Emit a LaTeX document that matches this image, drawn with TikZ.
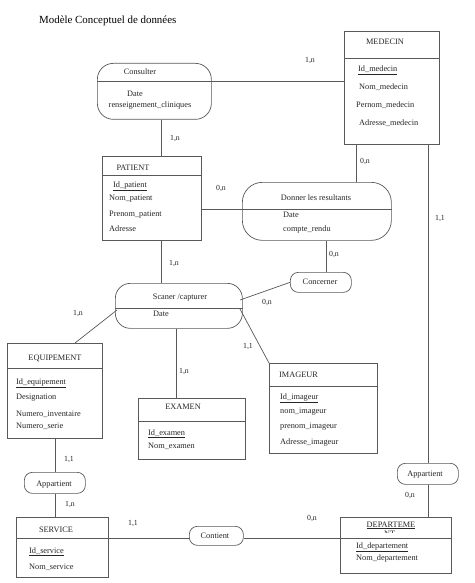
\documentclass[tikz,border=0pt]{standalone}
\usepackage{fontspec}
\setmainfont{Liberation Serif}
\usetikzlibrary{calc}
\tikzset{
  ln/.style={draw=black!65, line width=0.7pt},
  ent/.style={ln, rectangle, inner sep=0pt, anchor=north west},
  rel/.style={ln, rectangle, inner sep=0pt, anchor=north west},
  txt/.style={inner sep=0pt, anchor=base west, font=\fontsize{8.3}{9}\selectfont, text=black!85},
  ctxt/.style={inner sep=0pt, anchor=base, font=\fontsize{8.3}{9}\selectfont, text=black!85},
  card/.style={inner sep=0pt, anchor=base, font=\fontsize{7.8}{9}\selectfont, text=black!85},
}
\begin{document}
\begin{tikzpicture}[x=1pt,y=-1pt]
\useasboundingbox (0,0) rectangle (474,583);
\fill[white] (0,0) rectangle (474,583);

\node[inner sep=0pt, anchor=base west, font=\fontsize{10.9}{12}\selectfont] (title) at (39,24) {Modèle Conceptuel de données};

% ---------- Entities ----------
\node[ent, minimum width=95pt, minimum height=113pt] (medecin) at (344,31) {};
\draw[ln] (344,58) -- (439,58);
\node[ctxt] (medecinT) at (385,45) {MEDECIN};
\node[txt] (m1) at (358,72) {\underline{Id\_medecin}};
\node[txt] (m2) at (359,90) {Nom\_medecin};
\node[txt] (m3) at (356,108) {Pernom\_medecin};
\node[txt] (m4) at (359,125) {Adresse\_medecin};

\node[ent, minimum width=99pt, minimum height=84pt] (patient) at (102,156) {};
\draw[ln] (102,175) -- (201,175);
\node[ctxt] (patientT) at (133,170) {PATIENT};
\node[txt] (p1) at (113,187) {\underline{Id\_patient}};
\node[txt] (p2) at (109,200) {Nom\_patient};
\node[txt] (p3) at (109,216) {Prenom\_patient};
\node[txt] (p4) at (109,231) {Adresse};

\node[ent, minimum width=95pt, minimum height=95pt] (equip) at (7,343) {};
\draw[ln] (7,368) -- (102,368);
\node[ctxt] (equipT) at (55,360) {EQUIPEMENT};
\node[txt] (e1) at (16,384) {\underline{Id\_equipement}};
\node[txt] (e2) at (16,399) {Designation};
\node[txt] (e3) at (16,416) {Numero\_inventaire};
\node[txt] (e4) at (16,428) {Numero\_serie};

\node[ent, minimum width=107pt, minimum height=61pt] (examen) at (138,398) {};
\draw[ln] (138,421) -- (245,421);
\node[ctxt] (examenT) at (183,409) {EXAMEN};
\node[txt] (x1) at (148,435) {\underline{Id\_examen}};
\node[txt] (x2) at (148,448) {Nom\_examen};

\node[ent, minimum width=108pt, minimum height=90pt] (imageur) at (269,363) {};
\draw[ln] (269,386) -- (377,386);
\node[txt] (imageurT) at (279,377) {IMAGEUR};
\node[txt] (i1) at (280,399) {\underline{Id\_imageur}};
\node[txt] (i2) at (280,413) {nom\_imageur};
\node[txt] (i3) at (280,428) {prenom\_imageur};
\node[txt] (i4) at (280,444) {Adresse\_imageur};

\node[ent, minimum width=92pt, minimum height=60pt] (service) at (16,517) {};
\node[ctxt] (serviceT) at (56,532) {SERVICE};
\node[txt] (s1) at (29,553) {\underline{Id\_service}};
\node[txt] (s2) at (29,569) {Nom\_service};

\node[ent, minimum width=111pt, minimum height=56pt] (dept) at (340,517) {};
\node[ctxt] (deptT) at (391,527) {\underline{DEPARTEME}};
\begin{scope}
  \clip (370,528.5) rectangle (400,532);
  \node[txt] (deptNT) at (384,536) {NT};
\end{scope}
\node[txt] (d1) at (356,548) {\underline{Id\_departement}};
\node[txt] (d2) at (356,560) {Nom\_departement};

% ---------- Relations ----------
\node[rel, rounded corners=16pt, minimum width=114pt, minimum height=56pt] (consulter) at (97,63) {};
\node[ctxt] (consT) at (140,75) {Consulter};
\node[ctxt] (cons1) at (135,97) {Date};
\node[ctxt] (cons2) at (150,107) {renseignement\_cliniques};

\node[rel, rounded corners=20pt, minimum width=149pt, minimum height=58pt] (donner) at (242,182) {};
\node[ctxt] (donT) at (316,200) {Donner les resultants};
\node[txt] (don1) at (283,217) {Date};
\node[txt] (don2) at (283,231) {compte\_rendu};

\node[rel, rounded corners=15pt, minimum width=127pt, minimum height=45pt] (scaner) at (115,283) {};
\node[ctxt] (scanT) at (180,299) {Scaner /capturer};
\node[txt] (scan1) at (153,316) {Date};

\node[rel, rounded corners=8pt, minimum width=61pt, minimum height=20pt] (concerner) at (290,272) {};
\node[ctxt] (concT) at (320,284) {Concerner};

\node[rel, rounded corners=8pt, minimum width=61pt, minimum height=21pt] (appL) at (24,472) {};
\node[ctxt] (appLT) at (54,486) {Appartient};

\node[rel, rounded corners=8pt, minimum width=61pt, minimum height=21pt] (appR) at (397,463) {};
\node[ctxt] (appRT) at (425,476) {Appartient};

\node[rel, rounded corners=8pt, minimum width=54pt, minimum height=19pt] (contient) at (189,526) {};
\node[ctxt] (contT) at (215,538) {Contient};

% ---------- Connectors ----------
\draw[ln] (consulter.west |- 0,81) -- (medecin.west |- 0,81);
\draw[ln] (consulter.south -| 161,0) -- (patient.north -| 161,0);
\draw[ln] (patient.east |- 0,209) -- (donner.east |- 0,209);
\draw[ln] (donner.north -| 356,0) -- (medecin.south -| 356,0);
\draw[ln] (donner.south -| 326,0) -- (concerner.north -| 326,0);
\draw[ln] (patient.south -| 161,0) -- (scaner.north -| 161,0);
\draw[ln] (concerner.west) -- (240,300);
\draw[ln] (scaner.west |- 0,308) -- (scaner.east |- 0,308);
\draw[ln] (240,309) -- (imageur.north west);
\draw[ln] (117,310) -- (equip.north -| 75,0);
\draw[ln] (scaner.south -| 176,0) -- (examen.north -| 176,0);
\draw[ln] (equip.south -| 55,0) -- (appL.north -| 55,0);
\draw[ln] (appL.south -| 55,0) -- (service.north -| 55,0);
\draw[ln] (service.west |- 0,538) -- (contient.west |- 0,538);
\draw[ln] (contient.east |- 0,538) -- (dept.east |- 0,538);
\draw[ln] (medecin.south -| 428,0) -- (appR.north -| 428,0);
\draw[ln] (appR.south -| 428,0) -- (dept.north -| 428,0);

% ---------- Cardinalities ----------
\node[card] (c1) at (310,63) {1,n};
\node[card] (c2) at (175,140) {1,n};
\node[card] (c3) at (221,190) {0,n};
\node[card] (c4) at (365,163) {0,n};
\node[card] (c5) at (334,256) {0,n};
\node[card] (c6) at (174,265) {1,n};
\node[card] (c7) at (267,304) {0,n};
\node[card] (c8) at (248,348) {1,1};
\node[card] (c9) at (78,315) {1,n};
\node[card] (c10) at (184,373) {1,n};
\node[card] (c11) at (69,461) {1,1};
\node[card] (c12) at (70,506) {1,n};
\node[card] (c13) at (133,525) {1,1};
\node[card] (c14) at (312,520) {0,n};
\node[card] (c15) at (440,220) {1,1};
\node[card] (c16) at (410,497) {0,n};
\end{tikzpicture}
\end{document}
